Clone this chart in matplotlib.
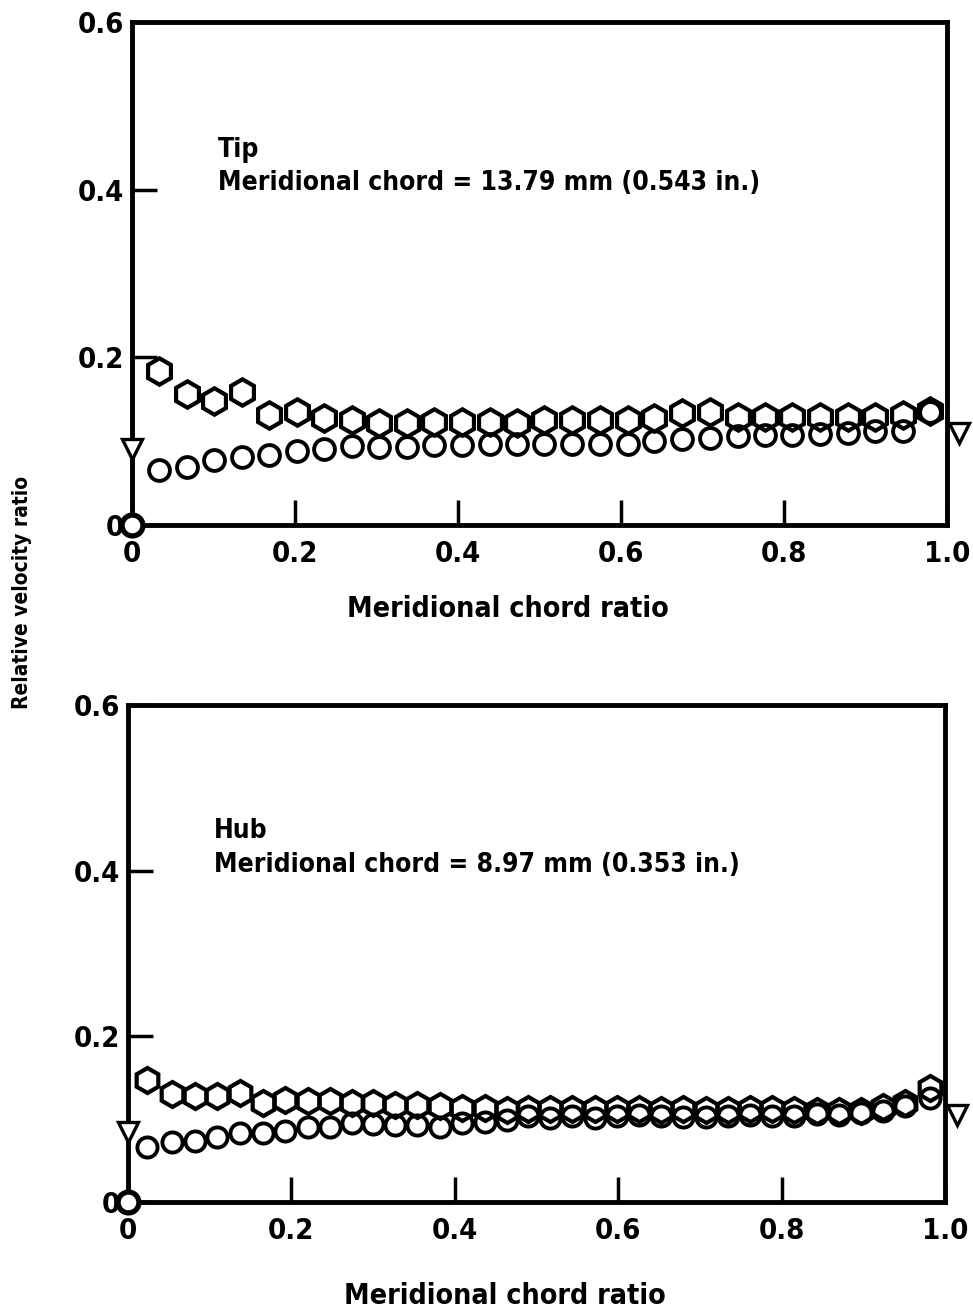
import matplotlib
matplotlib.use("Agg")
import matplotlib.pyplot as plt

plt.rcParams['font.family'] = ['DejaVu Sans']
plt.rcParams['font.stretch'] = 'condensed'

# Tip (top panel)
tip_x = [0.033, 0.067, 0.101, 0.135, 0.168, 0.202, 0.236, 0.270, 0.303, 0.337,
         0.371, 0.405, 0.439, 0.472, 0.506, 0.540, 0.574, 0.608, 0.641, 0.675,
         0.709, 0.743, 0.777, 0.810, 0.844, 0.878, 0.912, 0.946, 0.979]
tip_hex = [0.184, 0.156, 0.148, 0.158, 0.131, 0.135, 0.128, 0.125, 0.122, 0.122,
           0.123, 0.123, 0.123, 0.122, 0.125, 0.125, 0.125, 0.125, 0.127, 0.133,
           0.135, 0.129, 0.129, 0.129, 0.129, 0.129, 0.129, 0.131, 0.136]
tip_circ = [0.065, 0.069, 0.078, 0.081, 0.083, 0.088, 0.090, 0.094, 0.093, 0.093,
            0.095, 0.095, 0.096, 0.096, 0.097, 0.096, 0.097, 0.097, 0.100, 0.102,
            0.104, 0.106, 0.107, 0.107, 0.109, 0.110, 0.112, 0.112, 0.135]

# Hub (bottom panel)
hub_x = [0.023, 0.054, 0.082, 0.109, 0.137, 0.165, 0.192, 0.220, 0.247, 0.274,
         0.300, 0.327, 0.354, 0.382, 0.409, 0.437, 0.464, 0.490, 0.517, 0.543,
         0.572, 0.599, 0.625, 0.652, 0.679, 0.707, 0.734, 0.761, 0.788, 0.815,
         0.843, 0.870, 0.897, 0.924, 0.951, 0.982]
hub_hex = [0.147, 0.130, 0.128, 0.128, 0.132, 0.120, 0.123, 0.122, 0.122, 0.120,
           0.119, 0.117, 0.117, 0.116, 0.114, 0.114, 0.111, 0.112, 0.112, 0.112,
           0.112, 0.112, 0.112, 0.111, 0.112, 0.111, 0.111, 0.112, 0.112, 0.111,
           0.110, 0.110, 0.110, 0.115, 0.120, 0.138]
hub_circ = [0.067, 0.073, 0.074, 0.079, 0.083, 0.083, 0.086, 0.091, 0.091, 0.095,
            0.094, 0.093, 0.093, 0.091, 0.095, 0.097, 0.099, 0.104, 0.102, 0.104,
            0.102, 0.104, 0.105, 0.104, 0.103, 0.103, 0.104, 0.105, 0.104, 0.104,
            0.106, 0.105, 0.108, 0.110, 0.116, 0.126]

# inlet / outlet reference markers
tip_inlet, tip_outlet = 0.091, 0.110
hub_inlet, hub_outlet = 0.085, 0.105
outlet_x = 1.015

x_ticks = [0, 0.2, 0.4, 0.6, 0.8, 1.0]
x_ticklabels = ["0", "0.2", "0.4", "0.6", "0.8", "1.0"]
y_ticks = [0, 0.2, 0.4, 0.6]
y_ticklabels = ["0", "0.2", "0.4", "0.6"]

fig = plt.figure(figsize=(9.73, 13.14), dpi=100)
ax_tip = fig.add_axes([0.1357, 0.6005, 0.8376, 0.3828])
ax_hub = fig.add_axes([0.1316, 0.0852, 0.8396, 0.3783])


def panel(ax, x, hexv, circ, inlet, outlet, hs, cs, label, chord, label_y):
    ax.plot(x, hexv, linestyle="none", marker="h", ms=hs, mfc="none",
            mec="black", mew=3.0, clip_on=False)
    ax.plot(x, circ, linestyle="none", marker="o", ms=cs, mfc="none",
            mec="black", mew=2.8, clip_on=False)
    ax.plot([0], [0], linestyle="none", marker="o", ms=15, mfc="white",
            mec="black", mew=3.8, clip_on=False, zorder=5)
    ax.plot([0, outlet_x], [inlet, outlet], linestyle="none", marker="v",
            ms=15, mfc="white", mec="black", mew=2.4, clip_on=False, zorder=5)

    ax.set_xlim(0, 1.0)
    ax.set_ylim(0, 0.6)
    ax.set_xticks(x_ticks)
    ax.set_xticklabels(x_ticklabels)
    ax.set_yticks(y_ticks)
    ax.set_yticklabels(y_ticklabels)
    ax.tick_params(direction="in", length=18, width=2.5, labelsize=21)
    ax.tick_params(axis="x", pad=11)
    ax.tick_params(axis="y", pad=6)
    for t in ax.get_xticklabels() + ax.get_yticklabels():
        t.set_fontweight("bold")
    for s in ax.spines.values():
        s.set_linewidth(3.5)

    ax.text(0.105, 0.72, label, transform=ax.transAxes, fontsize=19,
            fontweight="bold", va="bottom")
    ax.text(0.105, 0.705, chord, transform=ax.transAxes, fontsize=19,
            fontweight="bold", va="top")
    ax.set_xlabel("Meridional chord ratio", fontsize=20.5, fontweight="bold")
    ax.xaxis.set_label_coords(0.461, label_y)


panel(ax_tip, tip_x, tip_hex, tip_circ, tip_inlet, tip_outlet, 19, 15,
      "Tip", "Meridional chord = 13.79 mm (0.543 in.)", -0.14)
panel(ax_hub, hub_x, hub_hex, hub_circ, hub_inlet, hub_outlet, 18, 14.5,
      "Hub", "Meridional chord = 8.97 mm (0.353 in.)", -0.16)

fig.text(0.023, 0.549, "Relative velocity ratio", rotation=90, fontsize=15,
         fontweight="bold", ha="center", va="center")

fig.savefig("out.png", dpi=100)
